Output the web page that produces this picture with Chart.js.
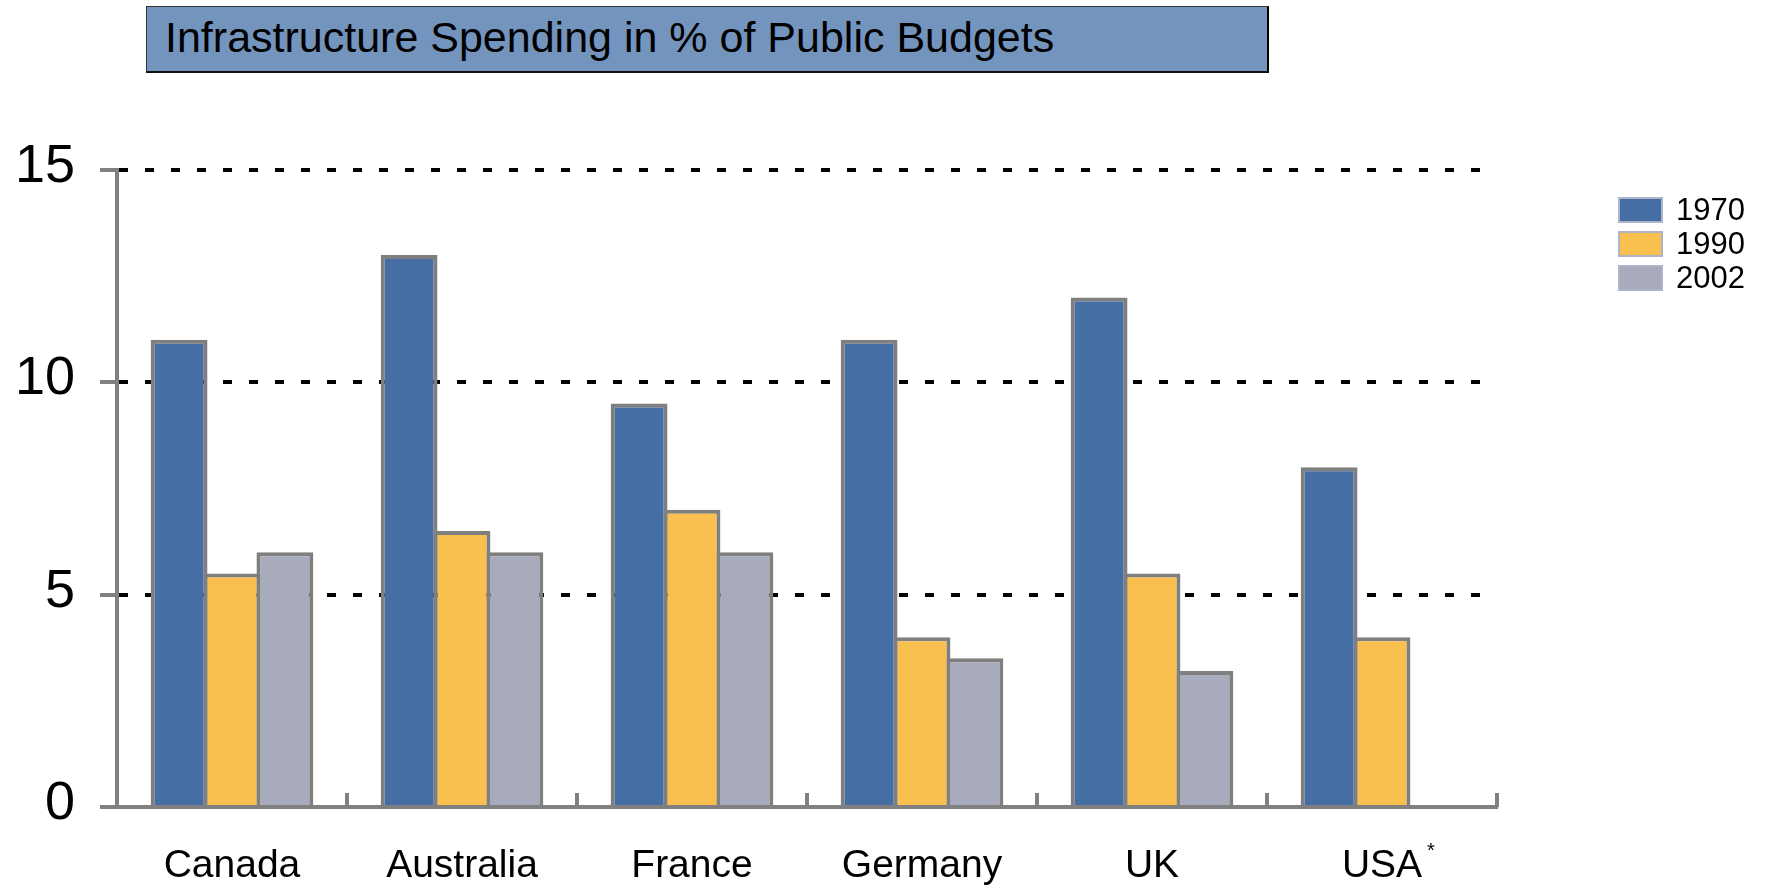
<!DOCTYPE html>
<html>
<head>
<meta charset="utf-8">
<title>Infrastructure Spending in % of Public Budgets</title>
<script src="https://cdn.jsdelivr.net/npm/chart.js@4.4.1/dist/chart.umd.min.js"></script>
<style>
  html, body { margin: 0; padding: 0; background: #fff; }
  body { width: 1767px; height: 886px; position: relative; overflow: hidden; font-family: 'Liberation Sans', Arial, sans-serif; color: #000; }
  #chart { position: absolute; left: 0; top: 0; }
  #titleBox {
    position: absolute; left: 146px; top: 6px; width: 1123px; height: 67px; box-sizing: border-box;
    background: #7394bd; border: 1px solid #333; border-right: 2px solid #000; border-bottom: 2px solid #111;
    font-size: 43px; padding-left: 18px; padding-bottom: 3px; display: flex; align-items: center;
  }
  #legend { position: absolute; left: 1618px; top: 197px; }
  .item { display: flex; align-items: center; height: 26px; margin-bottom: 8px; font-size: 31px; }
  .swatch { width: 45px; height: 26px; box-sizing: border-box; border: 2px solid #b0b4c8; margin-right: 13px; }
</style>
</head>
<body>
<canvas id="chart" width="1767" height="886"></canvas>
<div id="titleBox">Infrastructure Spending in % of Public Budgets</div>
<div id="legend"></div>
<script>
// share of public budgets spent on infrastructure, in %
const countries = ['Canada', 'Australia', 'France', 'Germany', 'UK', 'USA'];
const footnotes = ['', '', '', '', '', '*'];
const years = ['1970', '1990', '2002'];
const share1970 = [11, 13, 9.5, 11, 12, 8];
const share1990 = [5.5, 6.5, 7, 4, 5.5, 4];
const share2002 = [6, 6, 6, 3.5, 3.2, null];
const yearColors = ['#456fa4', '#f9bf4f', '#a8abbc'];

const axisGray = '#808080';
Chart.defaults.font.family = '"Liberation Sans", Arial, sans-serif';
Chart.defaults.color = '#000';

// legend on the right
const legendEl = document.getElementById('legend');
years.forEach((y, i) => {
  const row = document.createElement('div');
  row.className = 'item';
  row.innerHTML = `<span class="swatch" style="background:${yearColors[i]}"></span><span>${y}</span>`;
  legendEl.appendChild(row);
});

// small upward ticks between categories + footnote marks on labels
const categoryMarks = {
  id: 'categoryMarks',
  afterDraw(chart) {
    const { ctx, chartArea, scales: { x } } = chart;
    ctx.save();
    ctx.strokeStyle = axisGray;
    ctx.lineWidth = 4;
    for (let i = 1; i <= countries.length; i++) {
      const px = x.getPixelForValue(i - 0.5);
      ctx.beginPath();
      ctx.moveTo(px, chartArea.bottom);
      ctx.lineTo(px, chartArea.bottom - 14);
      ctx.stroke();
    }
    footnotes.forEach((mark, i) => {
      if (!mark) return;
      ctx.font = '39px "Liberation Sans", Arial';
      const w = ctx.measureText(countries[i]).width;
      ctx.font = '20px "Liberation Sans", Arial';
      ctx.fillStyle = '#000';
      ctx.textAlign = 'left';
      ctx.textBaseline = 'top';
      ctx.fillText(mark, x.getPixelForTick(i) + w / 2 + 5, x.top + 34);
    });
    ctx.restore();
  }
};

const makeSet = (label, data, i) => ({
  label,
  data,
  backgroundColor: yearColors[i],
  borderColor: '#7f7f7f',
  borderWidth: 4,
  borderSkipped: 'bottom',
  categoryPercentage: 0.69,
  barPercentage: 1.075
});

new Chart(document.getElementById('chart'), {
  type: 'bar',
  data: {
    labels: countries,
    datasets: [
      makeSet(years[0], share1970, 0),
      makeSet(years[1], share1990, 1),
      makeSet(years[2], share2002, 2)
    ]
  },
  options: {
    responsive: false,
    animation: false,
    devicePixelRatio: 1,
    layout: { padding: { top: 170, right: 270, left: 0, bottom: 0 } },
    plugins: { legend: { display: false }, tooltip: { enabled: false } },
    scales: {
      x: {
        offset: true,
        z: 1,
        grid: { display: false, drawTicks: false },
        border: { color: axisGray, width: 4 },
        ticks: { font: { size: 39 }, padding: 36, maxRotation: 0 },
        afterFit(s) { s.height = 79; }
      },
      y: {
        min: 0,
        max: 15,
        grid: {
          color: c => (c.tick && c.tick.value === 0 ? 'rgba(0,0,0,0)' : '#000'),
          lineWidth: 4,
          tickLength: 17,
          tickColor: axisGray,
          tickWidth: 4,
          tickBorderDash: []
        },
        border: { color: axisGray, width: 4, dash: [9, 17] },
        ticks: { stepSize: 5, font: { size: 54 }, padding: 25, labelOffset: -3 },
        afterFit(s) { s.width = 117; }
      }
    }
  },
  plugins: [categoryMarks]
});
</script>
</body>
</html>
